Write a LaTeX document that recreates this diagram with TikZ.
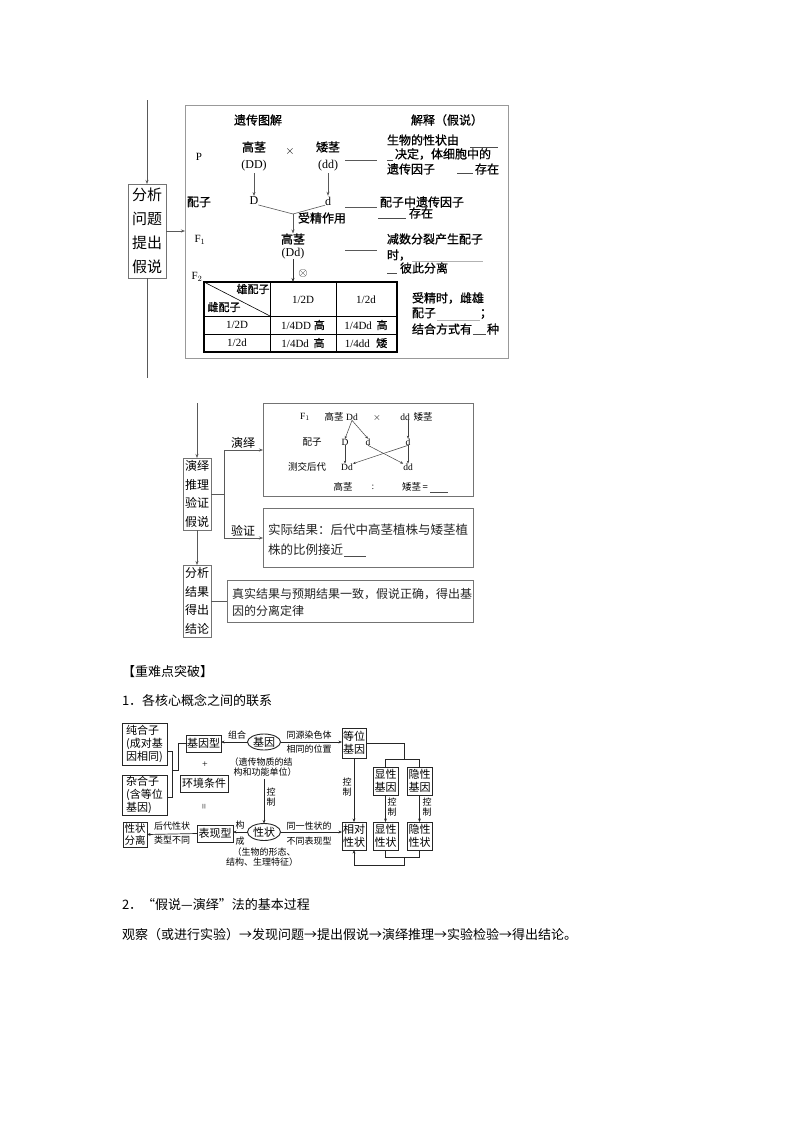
\documentclass[tikz,border=0pt]{standalone}
\usepackage{fontspec}
\setmainfont{Liberation Serif}
\newfontfamily\cjk{Noto Sans CJK SC}
\newfontfamily\cjkb[FakeBold=0.8]{Noto Sans CJK SC}
\usetikzlibrary{arrows.meta,shapes.geometric}
\tikzset{
 fs/.style n args={2}{font=\cjk\fontsize{#1}{#2}\selectfont},
 lat/.style n args={2}{font=\rmfamily\fontsize{#1}{#2}\selectfont},
 ln/.style={draw=black!65, line width=0.6pt},
 ar/.style={ln, -{Stealth[length=4pt,width=3pt]}},
 cln/.style={draw=black!85, line width=0.7pt},
 car/.style={cln, -{Stealth[length=3.5pt,width=2.8pt]}},
 gbox/.style={draw=black!55, line width=0.8pt},
 cb/.style={draw=black!85, line width=0.9pt, fs={11}{13}, align=center},
 lab/.style={fs={9}{10.5}, align=center},
 ul/.style={draw=black!70, line width=0.5pt},
 tx/.style={fs={12}{14}},
 tb/.style={font=\cjkb\fontsize{12}{14}\selectfont},
}
\begin{document}
\begin{tikzpicture}[x=1pt,y=-1pt,every node/.style={inner sep=0pt,outer sep=0pt}]
\useasboundingbox[fill=white] (0,0) rectangle (800,1132);

% ================= Section 1 =================
\node[gbox, minimum width=38pt, minimum height=94pt, align=center, fs={15}{24}] (A) at (147,231) {分析\\问题\\提出\\假说};
\coordinate (A0) at (147,100);
\coordinate (A1) at (147,378);
\draw[ar] (A0) -- (A.north);
\draw[ln] (A.south) -- (A1);
\node[draw=black!40, line width=0.8pt, minimum width=323pt, minimum height=253pt] (M) at (346.5,231.5) {};
\draw[ar] (A.east) -- (A.east -| M.west);

\node[tb] (tj) at (258,120) {遗传图解};
\node[tb] (js) at (447,120) {解释（假说）};
\node[lat={11}{13}] (P) at (199,157) {P};
\node[tb] (gj1) at (254,147) {高茎};
\node[lat={12}{14}] (DD) at (254,166) {(DD)};
\node[lat={13}{14}] (x1) at (290,151) {$\times$};
\node[tb] (aj1) at (328,147) {矮茎};
\node[lat={12}{14}] (dd) at (328,166) {(dd)};
\coordinate (L1a) at (345,160); \coordinate (L1b) at (377,160);
\draw[ln] (L1a) -- (L1b);
\node[tb, anchor=west] (e1) at (387,140) {生物的性状由};
\draw[ul] (470,147) -- (498,147);
\draw[ul] (387,160) -- (393,160);
\node[tb, anchor=west] (e2) at (395,154) {决定，体细胞中的};
\node[tb, anchor=west] (e3) at (387,169) {遗传因子};
\draw[ul] (457,173) -- (473,173);
\node[tb, anchor=west] (e4) at (475,169) {存在};

\node[tb] (pz) at (199,202) {配子};
\node[lat={12}{14}] (D) at (254,201) {D};
\node[lat={12}{14}] (d) at (328,201) {d};
\draw[ar, shorten <=2pt, shorten >=1pt] (DD.south) -- (D.north);
\draw[ar, shorten <=2pt, shorten >=1pt] (dd.south) -- (d.north);
\coordinate (J) at (293,214);
\draw[ln] (D.south east) -- (J);
\draw[ln] (d.south west) -- (J);
\node[tb, anchor=west] (sj) at (298,218) {受精作用};
\coordinate (L2a) at (345,207); \coordinate (L2b) at (377,207);
\draw[ln] (L2a) -- (L2b);
\node[tb, anchor=west] (e5) at (380,202) {配子中遗传因子};
\draw[ul] (378,218) -- (406,218);
\node[tb, anchor=west] (e6) at (409,213) {存在};

\node[lat={11}{13}] (F1) at (200,240) {F$_1$};
\node[tb] (gj2) at (293,239) {高茎};
\draw[ar] (J) -- (gj2.north);
\node[lat={12}{14}] (Dd) at (293,254) {(Dd)};
\coordinate (L3a) at (345,250); \coordinate (L3b) at (377,250);
\draw[ln] (L3a) -- (L3b);
\node[tb, anchor=west] (e7) at (387,239) {减数分裂产生配子};
\node[tb, anchor=west] (e8) at (387,255) {时，};
\draw[draw=black!30, line width=0.5pt] (412,261) -- (483,261);
\draw[ul] (387,273) -- (397,273);
\node[tb, anchor=west] (e9) at (400,268) {彼此分离};
\node[lat={11}{13}] (F2) at (197,277) {F$_2$};

% table
\node[draw=black, line width=1.4pt, minimum width=193pt, minimum height=70pt] (T) at (300.5,317) {};
\draw[ar, draw=black!80] (Dd.south) -- (Dd.south |- T.north);
\node[lat={13}{14}] (ot) at (303,273) {$\otimes$};
\draw[line width=0.9pt] (270,282) -- (270,352);
\draw[line width=0.9pt] (336,282) -- (336,352);
\draw[line width=0.9pt] (204,316) -- (397,316);
\draw[line width=0.9pt] (204,334) -- (397,334);
\draw[line width=0.6pt] (T.north west) -- (270,316);
\node[font=\cjkb\fontsize{11}{13}\selectfont] (xp) at (253,289) {雄配子};
\node[font=\cjkb\fontsize{11}{13}\selectfont] (cp) at (224,307) {雌配子};
\node[lat={11}{13}] (h1) at (303,300) {1/2D};
\node[lat={11}{13}] (h2) at (366,300) {1/2d};
\node[lat={11}{13}] (r1) at (237,325) {1/2D};
\node[lat={11}{13}] (c11) at (303,325) {1/4DD {\cjkb 高}};
\node[lat={11}{13}] (c12) at (366,325) {1/4Dd\, {\cjkb 高}};
\node[lat={11}{13}] (r2) at (237,343) {1/2d};
\node[lat={11}{13}] (c21) at (303,343) {1/4Dd\, {\cjkb 高}};
\node[lat={11}{13}] (c22) at (366,343) {1/4dd\,\, {\cjkb 矮}};

\node[tb, anchor=west] (f1) at (412,298) {受精时，雌雄};
\node[tb, anchor=west] (f2) at (412,313) {配子};
\draw[draw=black!30, line width=0.5pt] (437,320) -- (480,320);
\node[tb] (f2b) at (486,314) {；};
\node[tb, anchor=west] (f3) at (412,329) {结合方式有};
\draw[ul] (473,334) -- (486,334);
\node[tb, anchor=west] (f4) at (487,329) {种};

% ================= Section 2 =================
\node[gbox, minimum width=28pt, minimum height=72pt, align=center, fs={12}{18.5}] (B) at (197,494) {演绎\\推理\\验证\\假说};
\node[gbox, minimum width=28pt, minimum height=72pt, align=center, fs={12}{18.5}] (C) at (197,601) {分析\\结果\\得出\\结论};
\coordinate (B0) at (197,403);
\draw[ar] (B0) -- (B.north);
\draw[ar] (B.south) -- (C.north);
\node[gbox] (Dbox) at (368,449.5) [minimum width=210pt, minimum height=93pt] {};
\node[gbox] (Ebox) at (368,537.5) [minimum width=210pt, minimum height=59pt] {};
\node[gbox] (Fbox) at (350,601) [minimum width=246pt, minimum height=42pt] {};
\coordinate (Bj) at (224,494);
\coordinate (Bt) at (224,450);
\coordinate (Bb) at (224,538);
\draw[ln] (B.east) -- (Bj);
\draw[ln] (Bt) -- (Bb);
\draw[ar] (Bt) -- (Bt -| Dbox.west);
\draw[ar] (Bb) -- (Bb -| Ebox.west);
\draw[ln] (C.east) -- (C.east -| Fbox.west);
\node[tx] (yy) at (243,443) {演绎};
\node[tx] (yz) at (243,531) {验证};

% deduction box content
\node[lat={9.5}{11}] (dF1) at (305,417) {F$_1$};
\node[fs={9.5}{11}] (dgj) at (334,417) {高茎};
\node[lat={9.5}{11}] (Dd1) at (352,417) {Dd};
\node[lat={10}{11}] (dx) at (377,418) {$\times$};
\node[lat={9.5}{11}] (dd0) at (405,417) {dd};
\node[fs={9.5}{11}] (daj) at (423,417) {矮茎};
\node[fs={9.5}{11}] (dpz) at (312,442) {配子};
\node[lat={9.5}{11}] (gD) at (345,442) {D};
\node[lat={9.5}{11}] (gd1) at (368,442) {d};
\node[lat={9.5}{11}] (gd2) at (408,442) {d};
\node[fs={9.5}{11}] (dcj) at (307,467) {测交后代};
\node[lat={9.5}{11}] (Dd2) at (347,467) {Dd};
\node[lat={9.5}{11}] (dd3) at (408,467) {dd};
\tikzset{sar/.style={draw=black!75, line width=0.5pt, -{Stealth[length=3pt,width=2.4pt]}}}
\draw[sar] (Dd1.south) -- (gD.north);
\draw[sar] (Dd1.south) -- (gd1.north);
\draw[sar] (gd2.north |- dd0.south) -- (gd2.north);
\draw[sar] (gD.south) -- (Dd2.north -| gD.south);
\draw[sar] (gd1.south) -- (dd3.north west);
\draw[sar] (gd2.south) -- (Dd2.north east);
\draw[sar] (gd2.south) -- (dd3.north);
\node[fs={9.5}{11}] (rg) at (343,487) {高茎};
\node[lat={9.5}{11}] (rc) at (373,487) {:};
\node[fs={9.5}{11}] (ra) at (415,487) {矮茎\,=};
\draw[ul] (430,492) -- (448,492);

\node[fs={12.5}{14}, anchor=west, text=black!85] (v1) at (268,530) {实际结果：后代中高茎植株与矮茎植};
\node[fs={12.5}{14}, anchor=west, text=black!85] (v2) at (268,550) {株的比例接近};
\draw[ul] (344,556) -- (366,556);
\node[fs={12}{14}, anchor=west, text=black!85] (w1) at (232,594) {真实结果与预期结果一致，假说正确，得出基};
\node[fs={12}{14}, anchor=west, text=black!85] (w2) at (232,611) {因的分离定律};

% ================= Section 3 =================
\node[fs={13}{15}, anchor=west] (s1) at (122,672) {【重难点突破】};
\node[fs={13}{15}, anchor=west] (s2) at (122,700) {1．各核心概念之间的联系};
\node[fs={13}{15}, anchor=west] (s3) at (122,905) {2．“假说—演绎”法的基本过程};
\node[fs={13}{15}, anchor=west] (s4) at (122,935) {观察（或进行实验）→发现问题→提出假说→演绎推理→实验检验→得出结论。};

% concept map
\node[cb, align=left, minimum width=45pt, minimum height=42pt] (chun) at (144.5,744) {纯合子\\(成对基\\因相同)};
\node[cb, align=left, minimum width=45pt, minimum height=40pt] (za) at (144.5,795) {杂合子\\(含等位\\基因)};
\coordinate (c1) at (167,751); \coordinate (c2) at (172,751);
\coordinate (c3) at (172,797); \coordinate (c4) at (167,797);
\coordinate (c5) at (172,770); \coordinate (c6) at (178,770); \coordinate (c7) at (178,743.5);
\draw[cln] (c1) -- (c2) -- (c3) -- (c4);
\node[cb, minimum width=35pt, minimum height=17pt] (jyx) at (203.5,743.5) {基因型};
\draw[cln] (c5) -- (c6) -- (c7) -- (jyx.west);
\node[lat={10}{11}] (plus) at (205,765) {+};
\node[cb, minimum width=48pt, minimum height=17pt] (hj) at (204,783.5) {环境条件};
\node[lat={10}{11}, rotate=90] (eq) at (205,807) {=};
\node[cb, minimum width=36pt, minimum height=17pt] (bxx) at (215,833.5) {表现型};
\node[cb, minimum width=24pt, minimum height=25pt, fs={10.5}{12}] (xzfl) at (135,834.5) {性状\\分离};
\draw[car] (bxx.west) -- (xzfl.east);
\node[lab] (l1) at (172,826) {后代性状};
\node[lab] (l2) at (172,840) {类型不同};

\node[cb, ellipse, minimum width=33pt, minimum height=16pt] (jy) at (264,742) {基因};
\draw[car] (jy.west) -- (jy.west -| jyx.east);
\node[lab] (l3) at (237,735) {组合};
\node[lab] (l4) at (261,762) {（遗传物质的结};
\node[lab] (l5) at (265,772) {构和功能单位）};
\node[cb, ellipse, minimum width=33pt, minimum height=17pt] (xz) at (264,832) {性状};
\coordinate (k0) at (264,779);
\draw[car] (k0) -- (xz.north);
\node[lab] (l6) at (271,797) {控\\制};
\draw[car] (xz.west) -- (xz.west -| bxx.east);
\node[lab] (l7) at (240,825) {构};
\node[lab] (l8) at (240,841) {成};
\node[lab] (l9) at (264,852) {（生物的形态、};
\node[lab] (l10) at (262,862) {结构、生理特征）};

\node[cb, minimum width=24pt, minimum height=30pt] (dw) at (354,743) {等位\\基因};
\draw[car] (jy.east) -- (jy.east -| dw.west);
\node[lab] (l11) at (309,735) {同源染色体};
\node[lab] (l12) at (309,749) {相同的位置};
\node[cb, minimum width=24pt, minimum height=28pt] (xd) at (354,836) {相对\\性状};
\draw[car] (xz.east) -- (xz.east -| xd.west);
\node[lab] (l13) at (309,826) {同一性状的};
\node[lab] (l14) at (309,841) {不同表现型};
\draw[car] (dw.south) -- (xd.north);
\node[lab] (l15) at (347,787) {控\\制};

\node[cb, minimum width=25pt, minimum height=28pt] (xj) at (385.5,781) {显性\\基因};
\node[cb, minimum width=25pt, minimum height=28pt] (yj) at (419.5,781) {隐性\\基因};
\node[cb, minimum width=25pt, minimum height=28pt] (xs) at (385.5,836) {显性\\性状};
\node[cb, minimum width=25pt, minimum height=28pt] (ys) at (419.5,836) {隐性\\性状};
\coordinate (t1) at (404,743); \coordinate (t2) at (404,759);
\coordinate (t3) at (385.5,759); \coordinate (t4) at (419.5,759);
\draw[cln] (dw.east) -- (t1) -- (t2);
\draw[cln] (xj.north) -- (t3) -- (t4) -- (yj.north);
\draw[car] (xj.south) -- (xs.north);
\draw[car] (yj.south) -- (ys.north);
\node[lab] (l16) at (392,807) {控\\制};
\node[lab] (l17) at (427,807) {控\\制};
\coordinate (b1) at (385.5,857); \coordinate (b2) at (419.5,857);
\coordinate (b3) at (404,857); \coordinate (b4) at (404,865); \coordinate (b5) at (354,865);
\draw[cln] (xs.south) -- (b1) -- (b2) -- (ys.south);
\draw[car] (b3) -- (b4) -- (b5) -- (xd.south);
\end{tikzpicture}
\end{document}
